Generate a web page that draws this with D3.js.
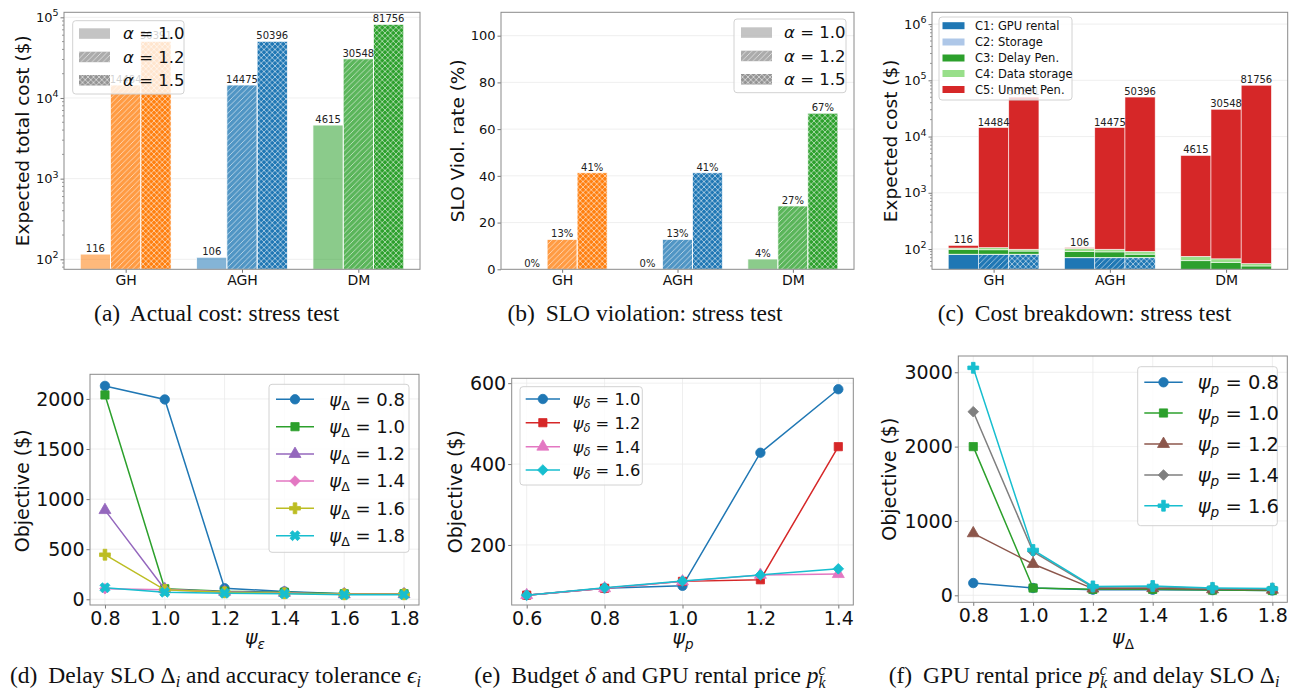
<!DOCTYPE html>
<html>
<head>
<meta charset="utf-8">
<script src="https://cdn.jsdelivr.net/npm/d3@7"></script>
<style>
  body { margin: 0; background: #fff; }
  svg text { white-space: pre; }
</style>
</head>
<body>
<div id="js_chart"></div>
<script>
// ---- data ----
const methods = ['GH', 'AGH', 'DM'];
const alphas = ['1.0', '1.2', '1.5'];

// (a) expected total cost per alpha
const costGH = [116, 14484, 50391];
const costAGH = [106, 14475, 50396];
const costDM = [4615, 30548, 81756];

// (b) SLO violation rate (%)
const violGH = [0, 12.8, 41.3];
const violAGH = [0, 12.8, 41.3];
const violDM = [4.4, 27.1, 66.8];

// (c) cost breakdown, order: GH a1..a3, AGH a1..a3, DM a1..a3
const c1Gpu = [80, 80, 80, 70, 70, 70, 0, 0, 0];
const c2Storage = [1, 1, 1, 1, 1, 1, 0, 0, 0];
const c3Delay = [18, 16, 11, 19, 18, 10, 62, 58, 50];
const c4Data = [5, 9, 7, 13, 10, 10, 12, 9, 5];
const c5Unmet = [12, 14378, 50292, 3, 14376, 50305, 4541, 30481, 81701];
const breakdownLabels = ['C1: GPU rental', 'C2: Storage', 'C3: Delay Pen.', 'C4: Data storage', 'C5: Unmet Pen.'];

// (d) objective vs psi_eps, one series per psi_Delta
const psiEps = [0.8, 1.0, 1.2, 1.4, 1.6, 1.8];
const dLabels = ['0.8', '1.0', '1.2', '1.4', '1.6', '1.8'];
const d08 = [2130, 1995, 110, 78, 55, 55];
const d10 = [2040, 105, 80, 70, 55, 55];
const d12 = [890, 100, 75, 65, 50, 50];
const d14 = [105, 95, 70, 60, 50, 50];
const d16 = [445, 95, 70, 60, 50, 50];
const d18 = [115, 70, 60, 55, 45, 45];

// (e) objective vs psi_p, one series per psi_delta
const psiP = [0.6, 0.8, 1.0, 1.2, 1.4];
const eLabels = ['1.0', '1.2', '1.4', '1.6'];
const e10 = [76, 93, 99, 428, 585];
const e12 = [76, 93, 110, 114, 443];
const e14 = [76, 93, 110, 126, 128];
const e16 = [76, 94, 111, 126, 141];

// (f) objective vs psi_Delta, one series per psi_p
const psiDelta = [0.8, 1.0, 1.2, 1.4, 1.6, 1.8];
const fLabels = ['0.8', '1.0', '1.2', '1.4', '1.6'];
const f08 = [165, 98, 76, 75, 70, 65];
const f10 = [2000, 98, 80, 80, 70, 65];
const f12 = [834, 421, 90, 95, 80, 75];
const f14 = [2470, 587, 110, 115, 90, 85];
const f16 = [3060, 610, 120, 125, 100, 90];

// ---- style ----
const FONT = '"DejaVu Sans", sans-serif';
const SERIF = '"Liberation Serif", "DejaVu Serif", serif';
const methodColors = ['#ff7f0e', '#1f77b4', '#2ca02c'];
const stackColors = ['#1f77b4', '#aec7e8', '#2ca02c', '#98df8a', '#d62728'];
const barOpacity = [0.55, 0.78, 1];
const hatchIds = [null, 'hatchDiag', 'hatchCross'];
const gridColor = '#ebebeb';
const spineColor = '#8a8a8a';
const barW = 0.26;

const svg = d3.select('#js_chart').append('svg')
  .attr('width', 1291).attr('height', 690)
  .style('font-family', FONT);
svg.append('rect').attr('width', 1291).attr('height', 690).attr('fill', '#fff');
const defs = svg.append('defs');

function makeHatch(id, d) {
  defs.append('pattern').attr('id', id)
    .attr('patternUnits', 'userSpaceOnUse').attr('width', 5.5).attr('height', 5.5)
    .append('path').attr('d', d)
    .attr('stroke', '#fff').attr('stroke-width', 0.7).attr('stroke-opacity', 0.8).attr('fill', 'none');
}
makeHatch('hatchDiag', 'M0,5.5L5.5,0M-1,1L1,-1M4.5,6.5L6.5,4.5');
makeHatch('hatchCross', 'M0,5.5L5.5,0M-1,1L1,-1M4.5,6.5L6.5,4.5M0,0L5.5,5.5M-1,4.5L1,6.5M4.5,-1L6.5,1');

function addClip(id, x0, y0, x1, y1) {
  defs.append('clipPath').attr('id', id).append('rect')
    .attr('x', x0).attr('y', y0).attr('width', x1 - x0).attr('height', y1 - y0);
}

function drawFrame(g, x0, y0, x1, y1) {
  g.append('rect').attr('x', x0).attr('y', y0).attr('width', x1 - x0).attr('height', y1 - y0)
    .attr('fill', 'none').attr('stroke', spineColor).attr('stroke-width', 1);
}

function styleAxis(ax, fs) {
  ax.select('.domain').remove();
  ax.selectAll('.tick line').attr('stroke', '#555').attr('stroke-width', 0.8);
  ax.selectAll('.tick text').attr('fill', '#111').style('font-size', fs + 'px').style('font-family', FONT);
}

function logLabels(ax) {
  ax.selectAll('.tick text').each(function (d) {
    const t = d3.select(this);
    t.text('');
    t.append('tspan').text('10');
    t.append('tspan').attr('dy', '-0.6em').style('font-size', '9.5px').text(Math.round(Math.log10(d)));
  });
}

function minorLogTicks(g, y, x0) {
  const [lo, hi] = y.domain();
  const vals = [];
  for (let e = Math.floor(Math.log10(lo)); e <= Math.ceil(Math.log10(hi)); e++) {
    for (let m = 2; m <= 9; m++) {
      const v = m * Math.pow(10, e);
      if (v > lo && v < hi) vals.push(v);
    }
  }
  g.append('g').selectAll('line').data(vals).join('line')
    .attr('x1', x0).attr('x2', x0 - 2).attr('y1', d => y(d)).attr('y2', d => y(d))
    .attr('stroke', '#555').attr('stroke-width', 0.6);
}

function yTitle(g, x, y, text, fs) {
  g.append('text').attr('transform', 'translate(' + x + ',' + y + ') rotate(-90)')
    .attr('text-anchor', 'middle').style('font-size', fs + 'px').attr('fill', '#111').text(text);
}

// text built from parts: {t, it, fs, rise, dx}
function richText(sel, parts, baseFs) {
  let prevRise = 0;
  parts.forEach(p => {
    const rise = p.rise || 0;
    const ts = sel.append('tspan').text(p.t)
      .attr('dy', prevRise - rise)
      .style('font-size', (p.fs || baseFs) + 'px')
      .style('font-style', p.it ? 'italic' : 'normal');
    if (p.dx) ts.attr('dx', p.dx);
    prevRise = rise;
  });
}

function legendBox(g, x0, y0, x1, y1) {
  g.append('rect').attr('x', x0).attr('y', y0).attr('width', x1 - x0).attr('height', y1 - y0)
    .attr('rx', 3).attr('fill', '#fff').attr('fill-opacity', 0.8)
    .attr('stroke', '#d2d2d2').attr('stroke-width', 1);
}

function alphaLegend(g, box, rowsY, px, tx, fs) {
  legendBox(g, box[0], box[1], box[2], box[3]);
  alphas.forEach((a, j) => {
    const py = rowsY[j] - 5;
    g.append('rect').attr('x', px).attr('y', py).attr('width', 31).attr('height', 10.5)
      .attr('fill', '#888').attr('fill-opacity', barOpacity[j] * 0.9);
    if (hatchIds[j]) {
      g.append('rect').attr('x', px).attr('y', py).attr('width', 31).attr('height', 10.5)
        .attr('fill', 'url(#' + hatchIds[j] + ')');
    }
    const t = g.append('text').attr('x', tx).attr('y', rowsY[j] + fs * 0.36).attr('fill', '#111');
    richText(t, [{t: 'α', it: true}, {t: ' = ' + a}], fs);
  });
}

// ---- (a) and (b): grouped bars ----
function drawBarPanel(p) {
  const g = svg.append('g');
  const x = d3.scaleLinear().domain([-0.53, 2.53]).range([p.x0, p.x1]);
  const y = p.y;
  const floor = y.domain()[0];
  addClip(p.id, p.x0, p.y0, p.x1, p.y1);

  g.append('g').selectAll('line').data(p.grid).join('line')
    .attr('x1', p.x0).attr('x2', p.x1).attr('y1', d => y(d)).attr('y2', d => y(d))
    .attr('stroke', gridColor).attr('stroke-width', 0.8);

  const rows = [];
  p.series.forEach((vals, i) => vals.forEach((v, j) => rows.push({i: i, j: j, v: v})));
  const bw = x(barW) - x(0);
  const bx = d => x(d.i + (d.j - 1) * barW - barW / 2);
  const top = d => y(Math.max(d.v, floor));

  const plot = g.append('g').attr('clip-path', 'url(#' + p.id + ')');
  plot.selectAll('.bar').data(rows).join('rect').attr('class', 'bar')
    .attr('x', bx).attr('width', bw)
    .attr('y', top).attr('height', d => p.y1 - top(d))
    .attr('fill', d => methodColors[d.i]).attr('fill-opacity', d => barOpacity[d.j]);
  plot.selectAll('.hatch').data(rows.filter(d => d.j > 0)).join('rect').attr('class', 'hatch')
    .attr('x', bx).attr('width', bw)
    .attr('y', top).attr('height', d => p.y1 - top(d))
    .attr('fill', d => 'url(#' + hatchIds[d.j] + ')');
  plot.selectAll('.edge').data(rows).join('rect').attr('class', 'edge')
    .attr('x', bx).attr('width', bw)
    .attr('y', top).attr('height', d => p.y1 - top(d))
    .attr('fill', 'none').attr('stroke', '#fff').attr('stroke-width', 0.8).attr('stroke-opacity', 0.9);

  g.selectAll('.lbl').data(rows).join('text').attr('class', 'lbl')
    .attr('x', d => bx(d) + bw / 2).attr('y', d => top(d) - 2)
    .attr('text-anchor', 'middle').attr('fill', '#222').style('font-size', '10px')
    .text(d => p.fmt(d.v));

  const ay = g.append('g').attr('transform', 'translate(' + p.x0 + ',0)')
    .call(d3.axisLeft(y).tickValues(p.ticks).tickSize(3.5).tickPadding(2)
      .tickFormat(p.log ? () => '' : d3.format('d')));
  styleAxis(ay, 13);
  if (p.log) { logLabels(ay); minorLogTicks(g, y, p.x0); }

  const ax = g.append('g').attr('transform', 'translate(0,' + p.y1 + ')')
    .call(d3.axisBottom(x).tickValues([0, 1, 2]).tickSize(3.5).tickPadding(2).tickFormat(i => methods[i]));
  styleAxis(ax, 14);

  drawFrame(g, p.x0, p.y0, p.x1, p.y1);
  yTitle(g, p.titleX, (p.y0 + p.y1) / 2, p.title, 18.5);
  alphaLegend(g, p.legBox, p.legRows, p.legPatchX, p.legTextX, 16.5);
}

drawBarPanel({
  id: 'clipA', x0: 64, x1: 420, y0: 12.3, y1: 269.3,
  y: d3.scaleLog().domain([75.2, 115400]).range([269.3, 12.3]),
  log: true, ticks: [1e2, 1e3, 1e4, 1e5], grid: [1e2, 1e3, 1e4, 1e5],
  series: [costGH, costAGH, costDM], fmt: v => String(v),
  title: 'Expected total cost ($)', titleX: 29,
  legBox: [72.7, 20.7, 184, 94], legRows: [33.3, 56.7, 80], legPatchX: 79, legTextX: 123
});

drawBarPanel({
  id: 'clipB', x0: 501, x1: 854, y0: 12.3, y1: 269.3,
  y: d3.scaleLinear().domain([0, 110]).range([269.3, 12.3]),
  log: false, ticks: [0, 20, 40, 60, 80, 100], grid: [20, 40, 60, 80, 100],
  series: [violGH, violAGH, violDM], fmt: v => Math.round(v) + '%',
  title: 'SLO Viol. rate (%)', titleX: 464,
  legBox: [734, 19, 846, 92.7], legRows: [32.3, 55.7, 79], legPatchX: 741, legTextX: 784
});

// ---- (c): stacked cost breakdown ----
(function drawStackPanel() {
  const x0 = 932, x1 = 1287.7, y0 = 12.3, y1 = 269.3;
  const g = svg.append('g');
  const x = d3.scaleLinear().domain([-0.53, 2.53]).range([x0, x1]);
  const y = d3.scaleLog().domain([43.6, 1.62e6]).range([y1, y0]);
  const floor = y.domain()[0];
  addClip('clipC', x0, y0, x1, y1);

  g.append('g').selectAll('line').data([1e2, 1e3, 1e4, 1e5, 1e6]).join('line')
    .attr('x1', x0).attr('x2', x1).attr('y1', d => y(d)).attr('y2', d => y(d))
    .attr('stroke', gridColor).attr('stroke-width', 0.8);

  const keys = ['c1', 'c2', 'c3', 'c4', 'c5'];
  const table = c1Gpu.map((v, k) => ({
    i: Math.floor(k / 3), j: k % 3,
    c1: c1Gpu[k], c2: c2Storage[k], c3: c3Delay[k], c4: c4Data[k], c5: c5Unmet[k]
  }));
  const stacked = d3.stack().keys(keys)(table);
  const totals = [costGH, costAGH, costDM];
  const bw = x(barW) - x(0);
  const bx = d => x(d.data.i + (d.data.j - 1) * barW - barW / 2);
  const yy = v => y(Math.max(v, floor));

  const plot = g.append('g').attr('clip-path', 'url(#clipC)');
  stacked.forEach((layer, li) => {
    const lg = plot.append('g');
    lg.selectAll('rect').data(layer.filter(d => d[1] > d[0])).join('rect')
      .attr('x', bx).attr('width', bw)
      .attr('y', d => yy(d[1])).attr('height', d => yy(d[0]) - yy(d[1]))
      .attr('fill', stackColors[li])
      .attr('stroke', '#fff').attr('stroke-width', 0.7).attr('stroke-opacity', 0.8);
    if (li === 0) {
      lg.selectAll('.hatch').data(layer.filter(d => d[1] > d[0] && d.data.j > 0)).join('rect')
        .attr('class', 'hatch')
        .attr('x', bx).attr('width', bw)
        .attr('y', d => yy(d[1])).attr('height', d => yy(d[0]) - yy(d[1]))
        .attr('fill', d => 'url(#' + hatchIds[d.data.j] + ')');
    }
  });

  g.selectAll('.lbl').data(table).join('text').attr('class', 'lbl')
    .attr('x', d => x(d.i + (d.j - 1) * barW))
    .attr('y', d => y(totals[d.i][d.j]) - 2)
    .attr('text-anchor', 'middle').attr('fill', '#222').style('font-size', '10px')
    .text(d => totals[d.i][d.j]);

  const ay = g.append('g').attr('transform', 'translate(' + x0 + ',0)')
    .call(d3.axisLeft(y).tickValues([1e2, 1e3, 1e4, 1e5, 1e6]).tickSize(3.5).tickPadding(2).tickFormat(() => ''));
  styleAxis(ay, 13);
  logLabels(ay);
  minorLogTicks(g, y, x0);
  const ax = g.append('g').attr('transform', 'translate(0,' + y1 + ')')
    .call(d3.axisBottom(x).tickValues([0, 1, 2]).tickSize(3.5).tickPadding(2).tickFormat(i => methods[i]));
  styleAxis(ax, 14);
  drawFrame(g, x0, y0, x1, y1);
  yTitle(g, 896.6, (y0 + y1) / 2, 'Expected cost ($)', 18.5);

  legendBox(g, 939, 17, 1072, 100);
  const rowsY = [25.7, 42, 58, 73.5, 89.5];
  breakdownLabels.forEach((lab, k) => {
    g.append('rect').attr('x', 942.5).attr('y', rowsY[k] - 3.5).attr('width', 22).attr('height', 7)
      .attr('fill', stackColors[k]);
    g.append('text').attr('x', 975).attr('y', rowsY[k] + 4).attr('fill', '#111')
      .style('font-size', '11.5px').text(lab);
  });
})();

// ---- (d), (e), (f): line panels ----
const marks = {
  circle: {type: d3.symbolCircle, size: 70, rot: 0},
  square: {type: d3.symbolSquare, size: 68, rot: 0},
  triangle: {type: d3.symbolTriangle, size: 62, rot: 0},
  diamond: {type: d3.symbolSquare, size: 56, rot: 45},
  plus: {type: d3.symbolCross, size: 66, rot: 0},
  xcross: {type: d3.symbolCross, size: 62, rot: 45}
};

function drawMark(g, m, cx, cy, color) {
  g.append('path').attr('d', d3.symbol().type(m.type).size(m.size)())
    .attr('transform', 'translate(' + cx + ',' + cy + ') rotate(' + m.rot + ')')
    .attr('fill', color).attr('stroke', color).attr('stroke-width', 0.8);
}

function drawLinePanel(p) {
  const g = svg.append('g');
  const x = d3.scaleLinear().domain(p.xd).range([p.x0, p.x1]);
  const y = d3.scaleLinear().domain(p.yd).range([p.y1, p.y0]);
  addClip(p.id, p.x0, p.y0, p.x1, p.y1);

  const grid = g.append('g');
  grid.selectAll('.gy').data(p.yTicks).join('line').attr('class', 'gy')
    .attr('x1', p.x0).attr('x2', p.x1).attr('y1', d => y(d)).attr('y2', d => y(d))
    .attr('stroke', gridColor).attr('stroke-width', 0.8);
  grid.selectAll('.gx').data(p.xs).join('line').attr('class', 'gx')
    .attr('y1', p.y0).attr('y2', p.y1).attr('x1', d => x(d)).attr('x2', d => x(d))
    .attr('stroke', gridColor).attr('stroke-width', 0.8);

  const plot = g.append('g');
  const line = d3.line().x((d, k) => x(p.xs[k])).y(d => y(d));
  p.series.forEach((vals, s) => {
    const sg = plot.append('g');
    sg.append('path').attr('d', line(vals)).attr('fill', 'none')
      .attr('stroke', p.colors[s]).attr('stroke-width', 1.5);
    vals.forEach((v, k) => drawMark(sg, marks[p.marks[s]], x(p.xs[k]), y(v), p.colors[s]));
  });

  const ay = g.append('g').attr('transform', 'translate(' + p.x0 + ',0)')
    .call(d3.axisLeft(y).tickValues(p.yTicks).tickSize(3.5).tickPadding(2).tickFormat(d3.format('d')));
  styleAxis(ay, 19);
  const ax = g.append('g').attr('transform', 'translate(0,' + p.y1 + ')')
    .call(d3.axisBottom(x).tickValues(p.xs).tickSize(3.5).tickPadding(3).tickFormat(d3.format('.1f')));
  styleAxis(ax, 19);
  drawFrame(g, p.x0, p.y0, p.x1, p.y1);
  yTitle(g, p.titleX, p.titleY, 'Objective ($)', 19);

  const xt = g.append('text').attr('x', p.xTitleX).attr('y', 644).attr('text-anchor', 'middle').attr('fill', '#111');
  richText(xt, [{t: 'ψ', it: true}, {t: p.xSub, it: p.xSubIt, fs: 13.5, rise: -4.5}], 19);

  const lb = p.leg;
  legendBox(g, lb.box[0], lb.box[1], lb.box[2], lb.box[3]);
  p.labels.forEach((lab, s) => {
    const ry = lb.rows[s];
    g.append('line').attr('x1', lb.lx[0]).attr('x2', lb.lx[1]).attr('y1', ry).attr('y2', ry)
      .attr('stroke', p.colors[s]).attr('stroke-width', 1.5);
    drawMark(g, marks[p.marks[s]], (lb.lx[0] + lb.lx[1]) / 2, ry, p.colors[s]);
    const t = g.append('text').attr('x', lb.tx).attr('y', ry + lb.fs * 0.36).attr('fill', '#111');
    richText(t, [
      {t: 'ψ', it: true},
      {t: p.legSub, it: p.legSubIt, fs: lb.fs * 0.7, rise: -lb.fs * 0.22},
      {t: ' = ' + lab}
    ], lb.fs);
  });
}

drawLinePanel({
  id: 'clipD', x0: 90, x1: 419, y0: 374.3, y1: 605,
  xd: [0.75, 1.85], yd: [-57, 2246], xs: psiEps, yTicks: [0, 500, 1000, 1500, 2000],
  series: [d08, d10, d12, d14, d16, d18], labels: dLabels,
  colors: ['#1f77b4', '#2ca02c', '#9467bd', '#e377c2', '#bcbd22', '#17becf'],
  marks: ['circle', 'square', 'triangle', 'diamond', 'plus', 'xcross'],
  titleX: 29, titleY: 490.8, xTitleX: 255, xSub: 'ε', xSubIt: true,
  legSub: 'Δ', legSubIt: false,
  leg: {box: [269, 384.3, 409, 552.3], rows: [399.3, 426.7, 454, 481, 508.3, 535.7], lx: [276, 314], tx: 329.3, fs: 18}
});

drawLinePanel({
  id: 'clipE', x0: 511.7, x1: 853.3, y0: 378.3, y1: 605,
  xd: [0.5615, 1.4385], yd: [51.6, 612], xs: psiP, yTicks: [200, 400, 600],
  series: [e10, e12, e14, e16], labels: eLabels,
  colors: ['#1f77b4', '#d62728', '#e377c2', '#17becf'],
  marks: ['circle', 'square', 'triangle', 'diamond'],
  titleX: 462.3, titleY: 491.7, xTitleX: 683, xSub: 'p', xSubIt: true,
  legSub: 'δ', legSubIt: true,
  leg: {box: [520, 386.7, 642.3, 485], rows: [399, 422.7, 446.7, 470], lx: [525.7, 560], tx: 572.7, fs: 16.3}
});

drawLinePanel({
  id: 'clipF', x0: 958.3, x1: 1287.3, y0: 356, y1: 602.3,
  xd: [0.75, 1.85], yd: [-94, 3219], xs: psiDelta, yTicks: [0, 1000, 2000, 3000],
  series: [f08, f10, f12, f14, f16], labels: fLabels,
  colors: ['#1f77b4', '#2ca02c', '#8c564b', '#7f7f7f', '#17becf'],
  marks: ['circle', 'square', 'triangle', 'diamond', 'plus'],
  titleX: 895.7, titleY: 479.2, xTitleX: 1123, xSub: 'Δ', xSubIt: false,
  legSub: 'p', legSubIt: true,
  leg: {box: [1137.7, 366.7, 1277.3, 525.7], rows: [382.3, 413, 444, 475, 505.7], lx: [1144.3, 1182.7], tx: 1197.7, fs: 19.5}
});

// ---- captions ----
function caption(cx, by, parts) {
  const t = svg.append('text').attr('x', cx).attr('y', by).attr('text-anchor', 'middle')
    .attr('fill', '#111').style('font-family', SERIF);
  richText(t, parts, 23.5);
}
const CS = 16;
caption(216.7, 321, [{t: '(a)'}, {t: ' Actual cost: stress test', dx: 5}]);
caption(645, 321, [{t: '(b)'}, {t: ' SLO violation: stress test', dx: 5}]);
caption(1084.5, 321, [{t: '(c)'}, {t: ' Cost breakdown: stress test', dx: 5}]);
caption(215.5, 683, [
  {t: '(d)'}, {t: ' Delay SLO Δ', dx: 5}, {t: 'i', it: true, fs: CS, rise: -4},
  {t: ' and accuracy tolerance '}, {t: 'ϵ', it: true}, {t: 'i', it: true, fs: CS, rise: -4}
]);
caption(650, 683, [
  {t: '(e)'}, {t: ' Budget ', dx: 5}, {t: 'δ', it: true}, {t: ' and GPU rental price '},
  {t: 'p', it: true}, {t: 'c', it: true, fs: CS, rise: 8.5}, {t: 'k', it: true, fs: CS, rise: -5, dx: -7}
]);
caption(1084, 683, [
  {t: '(f)'}, {t: ' GPU rental price ', dx: 5}, {t: 'p', it: true},
  {t: 'c', it: true, fs: CS, rise: 8.5}, {t: 'k', it: true, fs: CS, rise: -5, dx: -7},
  {t: ' and delay SLO Δ'}, {t: 'i', it: true, fs: CS, rise: -4}
]);
</script>
</body>
</html>
